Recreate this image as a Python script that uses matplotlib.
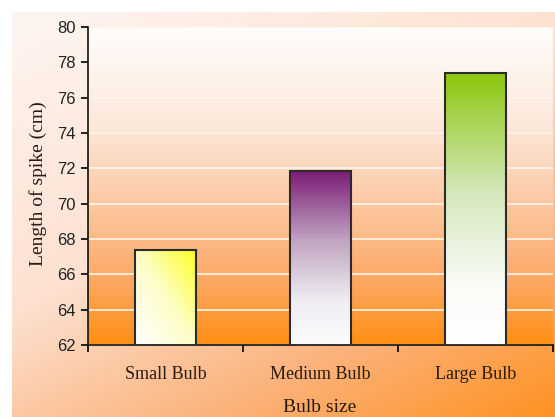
import matplotlib.pyplot as plt
import numpy as np
from matplotlib.colors import LinearSegmentedColormap

categories = ['Small Bulb', 'Medium Bulb', 'Large Bulb']
spike_length = [67.4, 71.85, 77.4]
bar_colors = ['#ffff26', '#7b1b76', '#8cc60c']
y_ticks = list(range(62, 81, 2))

W, H = 555, 417
fig = plt.figure(figsize=(W / 100, H / 100), dpi=100)

# outer backdrop, light at top-left fading to orange bottom-right
back = fig.add_axes([12 / W, 0, (W - 12) / W, (H - 12) / H], zorder=-10)
back.axis('off')
gx, gy = np.meshgrid(np.linspace(0, 1, 300), np.linspace(0, 1, 300))
outer_cmap = LinearSegmentedColormap.from_list(
    'outer', [(0, '#fef5f1'), (0.45, '#fde0cf'), (0.75, '#fbb27a'), (1, '#ff9222')])
back.imshow(0.4 * gx + 0.6 * gy, cmap=outer_cmap, aspect='auto', vmin=0, vmax=1)

pos = [88 / W, 1 - 345 / H, (553 - 88) / W, (345 - 27) / H]

# plot area fill, white on top to orange at the base
plot_bg = fig.add_axes(pos, zorder=-5)
plot_bg.axis('off')
inner_cmap = LinearSegmentedColormap.from_list(
    'inner', [(0, '#fffdfb'), (0.3, '#fde9dc'), (0.55, '#fcc9a4'), (0.8, '#fca864'), (1, '#ff8f14')])
plot_bg.imshow(gy, cmap=inner_cmap, aspect='auto', vmin=0, vmax=1)

ax = fig.add_axes(pos)
ax.patch.set_visible(False)

x = np.arange(len(categories))
bars = ax.bar(x, spike_length, width=0.39, bottom=0, facecolor='none',
              edgecolor='#2b2b2b', linewidth=1.5, zorder=3)

# gradient fills for the bars
for i, (bar, col) in enumerate(zip(bars, bar_colors)):
    x0, x1 = bar.get_x(), bar.get_x() + bar.get_width()
    y1 = bar.get_height()
    if i == 0:
        grad = 0.5 * gx + 0.5 * (1 - gy)
        cmap = LinearSegmentedColormap.from_list('b0', [(0, '#ffffff'), (0.5, '#fdfdc8'), (1, col)])
    elif i == 1:
        grad = 1 - gy
        cmap = LinearSegmentedColormap.from_list('b1', [(0, '#fbfbfd'), (0.25, '#f0edf3'), (0.6, '#c0a4c0'), (1, col)])
    else:
        grad = 1 - gy
        cmap = LinearSegmentedColormap.from_list('b2', [(0, '#ffffff'), (0.2, '#fbfcf8'), (0.55, '#d6e9c0'), (1, col)])
    im = ax.imshow(grad, cmap=cmap, extent=[x0, x1, 62, y1], aspect='auto',
                   vmin=0, vmax=1, zorder=2)
    im.set_clip_path(bar)

ax.set_xlim(-0.5, 2.5)
ax.set_ylim(62, 80)

ax.set_yticks(y_ticks)
ax.yaxis.grid(True, color='#fff6ea', linewidth=1.2)
ax.set_axisbelow(True)
ax.tick_params(axis='y', direction='out', length=5, width=1.2, pad=4,
               labelsize=12, labelcolor='#222222')
for lab in ax.get_yticklabels():
    lab.set_family('Liberation Sans')

ax.set_xticks(x)
ax.set_xticklabels(categories, family='Liberation Serif', fontsize=13, color='#2a1a14')
ax.set_xticks([-0.5, 0.5, 1.5, 2.5], minor=True)
ax.tick_params(axis='x', which='major', length=0, pad=15)
ax.tick_params(axis='x', which='minor', direction='out', length=5, width=1.2)

for side in ['top', 'right']:
    ax.spines[side].set_visible(False)
for side in ['left', 'bottom']:
    ax.spines[side].set_linewidth(1.2)
    ax.spines[side].set_color('#111111')

fig.text(38 / W, 1 - 184 / H, 'Length of spike (cm)', rotation=90, ha='center', va='center',
         family='Liberation Serif', fontsize=14, color='#2a1a14')
fig.text(320 / W, 1 - 407 / H, 'Bulb size', ha='center', va='center',
         family='Liberation Serif', fontsize=14, color='#2a1a14')

fig.savefig('out.png', dpi=100)
